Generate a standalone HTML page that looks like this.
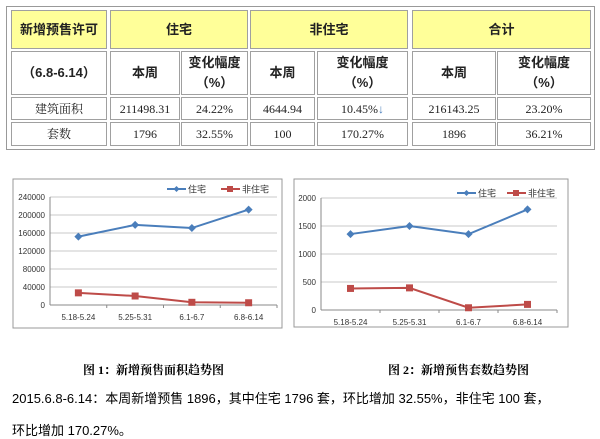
<!DOCTYPE html>
<html><head><meta charset="utf-8">
<style>
body{margin:0;width:600px;height:439px;background:#fff;position:relative;overflow:hidden;font-family:"Liberation Serif","Noto Serif CJK SC",serif;}
.c{position:absolute;box-sizing:border-box;border:1px solid #a0a0a0;display:flex;align-items:center;justify-content:center;text-align:center;font-size:12px;color:#222;line-height:20px}
.h{background:#ffff99;font-weight:bold;font-family:"Liberation Sans","Noto Sans CJK SC",sans-serif;font-size:13px}
.b{font-weight:bold;font-family:"Liberation Sans","Noto Sans CJK SC",sans-serif;font-size:13px}
.cap{position:absolute;font-weight:bold;font-size:12px;font-family:"Liberation Serif","Noto Serif CJK SC",serif;white-space:nowrap}
.p{position:absolute;left:12px;font-size:13px;font-family:"Liberation Sans","Noto Sans CJK SC",sans-serif;white-space:nowrap}
</style></head><body>
<div style="position:absolute;left:6px;top:6px;width:589px;height:144px;border:1px solid #999;box-sizing:border-box"></div>
<div class="c h" style="left:11px;top:10px;width:96px;height:39px">新增预售许可</div>
<div class="c h" style="left:110px;top:10px;width:138px;height:39px">住宅</div>
<div class="c h" style="left:250px;top:10px;width:158px;height:39px">非住宅</div>
<div class="c h" style="left:412px;top:10px;width:179px;height:39px">合计</div>
<div class="c b" style="left:11px;top:51px;width:96px;height:44px">（6.8-6.14）</div>
<div class="c b" style="left:110px;top:51px;width:70px;height:44px">本周</div>
<div class="c b" style="left:181px;top:51px;width:67px;height:44px">变化幅度<br>（%）</div>
<div class="c b" style="left:250px;top:51px;width:65px;height:44px">本周</div>
<div class="c b" style="left:317px;top:51px;width:91px;height:44px">变化幅度<br>（%）</div>
<div class="c b" style="left:412px;top:51px;width:84px;height:44px">本周</div>
<div class="c b" style="left:497px;top:51px;width:94px;height:44px">变化幅度<br>（%）</div>
<div class="c" style="left:11px;top:97px;width:96px;height:23px">建筑面积</div>
<div class="c" style="left:110px;top:97px;width:70px;height:23px">211498.31</div>
<div class="c" style="left:181px;top:97px;width:67px;height:23px">24.22%</div>
<div class="c" style="left:250px;top:97px;width:65px;height:23px">4644.94</div>
<div class="c" style="left:317px;top:97px;width:91px;height:23px">10.45%<span style="color:#4a7ebb;font-weight:bold">↓</span></div>
<div class="c" style="left:412px;top:97px;width:84px;height:23px">216143.25</div>
<div class="c" style="left:497px;top:97px;width:94px;height:23px">23.20%</div>
<div class="c" style="left:11px;top:122px;width:96px;height:24px">套数</div>
<div class="c" style="left:110px;top:122px;width:70px;height:24px">1796</div>
<div class="c" style="left:181px;top:122px;width:67px;height:24px">32.55%</div>
<div class="c" style="left:250px;top:122px;width:65px;height:24px">100</div>
<div class="c" style="left:317px;top:122px;width:91px;height:24px">170.27%</div>
<div class="c" style="left:412px;top:122px;width:84px;height:24px">1896</div>
<div class="c" style="left:497px;top:122px;width:94px;height:24px">36.21%</div>

<svg id="svg" width="600" height="439" style="position:absolute;left:0;top:0" font-family="Liberation Sans, Noto Sans CJK SC, sans-serif"></svg>

<div class="cap" style="left:83px;top:361px">图 1：新增预售面积趋势图</div>
<div class="cap" style="left:388px;top:361px">图 2：新增预售套数趋势图</div>
<div class="p" style="top:388px">2015.6.8-6.14：本周新增预售 1896，其中住宅 1796 套，环比增加 32.55%，非住宅 100 套，</div>
<div class="p" style="top:420px">环比增加 170.27%。</div>

<script>
const categories = ["5.18-5.24","5.25-5.31","6.1-6.7","6.8-6.14"];
const areaResidential = [152000,178000,171000,212000];
const areaNonResidential = [27000,20000,6000,5000];
const areaTicks = [0,40000,80000,120000,160000,200000,240000];
const unitResidential = [1356,1500,1355,1796];
const unitNonResidential = [385,395,40,100];
const unitTicks = [0,500,1000,1500,2000];
const seriesNames = ["住宅","非住宅"];

const NS="http://www.w3.org/2000/svg";
const svg=document.getElementById('svg');
function mk(tag,attrs,parent){const e=document.createElementNS(NS,tag);for(const k in attrs)e.setAttribute(k,attrs[k]);(parent||svg).appendChild(e);return e;}

function chart(cfg){
  const g=mk('g',{});
  
  
  const fr=mk('rect',{x:cfg.box[0],y:cfg.box[1],width:cfg.box[2],height:cfg.box[3],fill:'#fff',stroke:'#999'},g);
  
  
  const max=cfg.ticks[cfg.ticks.length-1];
  const y=v=>cfg.y0-(v/max)*(cfg.y0-cfg.yTop);
  const n=categories.length, w=(cfg.xR-cfg.xL)/n;
  const x=i=>cfg.xL+w*(i+0.5);
  cfg.ticks.forEach(t=>{
    const gl=mk('line',{x1:cfg.xL,x2:cfg.xR,y1:y(t),y2:y(t),stroke:t===0?'#888':'#c8c8c8','stroke-width':1},g);
    
    
    const tl=mk('text',{x:cfg.xL-5,y:y(t)+3,'text-anchor':'end','font-size':8,fill:'#333'},g);
    
    
    tl.textContent=t;
  });
  mk('line',{x1:cfg.xL,x2:cfg.xL,y1:cfg.yTop,y2:cfg.y0,stroke:'#888'},g);
  categories.forEach((c,i)=>{
    mk('line',{x1:cfg.xL+w*(i+1),x2:cfg.xL+w*(i+1),y1:cfg.y0,y2:cfg.y0+3,stroke:'#888'},g);
    const cl=mk('text',{x:x(i),y:cfg.y0+15,'text-anchor':'middle','font-size':8,fill:'#333'},g);
    
    
    cl.textContent=c;
  });
  [[cfg.s1,'#4a7ebb'],[cfg.s2,'#be4b48']].forEach(([s,col],k)=>{
    const pl=mk('polyline',{points:s.map((v,i)=>x(i)+','+y(v)).join(' '),fill:'none',stroke:col,'stroke-width':2},g);
    
    
    s.forEach((v,i)=>{
      let m;
      if(k) m=mk('rect',{x:x(i)-3.5,y:y(v)-3.5,width:7,height:7,fill:col},g);
      else m=mk('path',{d:`M${x(i)} ${y(v)-4}L${x(i)+4} ${y(v)}L${x(i)} ${y(v)+4}L${x(i)-4} ${y(v)}Z`,fill:col},g);
      
      
    });
    const lx=cfg.leg[k], ly=cfg.legY;
    mk('line',{x1:lx,x2:lx+19,y1:ly,y2:ly,stroke:col,'stroke-width':2},g);
    if(k) mk('rect',{x:lx+6,y:ly-3,width:6,height:6,fill:col},g);
    else mk('path',{d:`M${lx+9.5} ${ly-3}L${lx+12.5} ${ly}L${lx+9.5} ${ly+3}L${lx+6.5} ${ly}Z`,fill:col},g);
    const lt=mk('text',{x:lx+21,y:ly+3.5,'font-size':9,fill:'#333'},g);
    
    
    lt.textContent=seriesNames[k];
  });
}
chart({name:'area-chart',box:[13,179,269,149],xL:50,xR:277,yTop:197,y0:305,ticks:areaTicks,s1:areaResidential,s2:areaNonResidential,leg:[167,221],legY:189});
chart({name:'units-chart',box:[294,179,274,148],xL:321,xR:557,yTop:198,y0:310,ticks:unitTicks,s1:unitResidential,s2:unitNonResidential,leg:[457,507],legY:193});
</script>
</body></html>
